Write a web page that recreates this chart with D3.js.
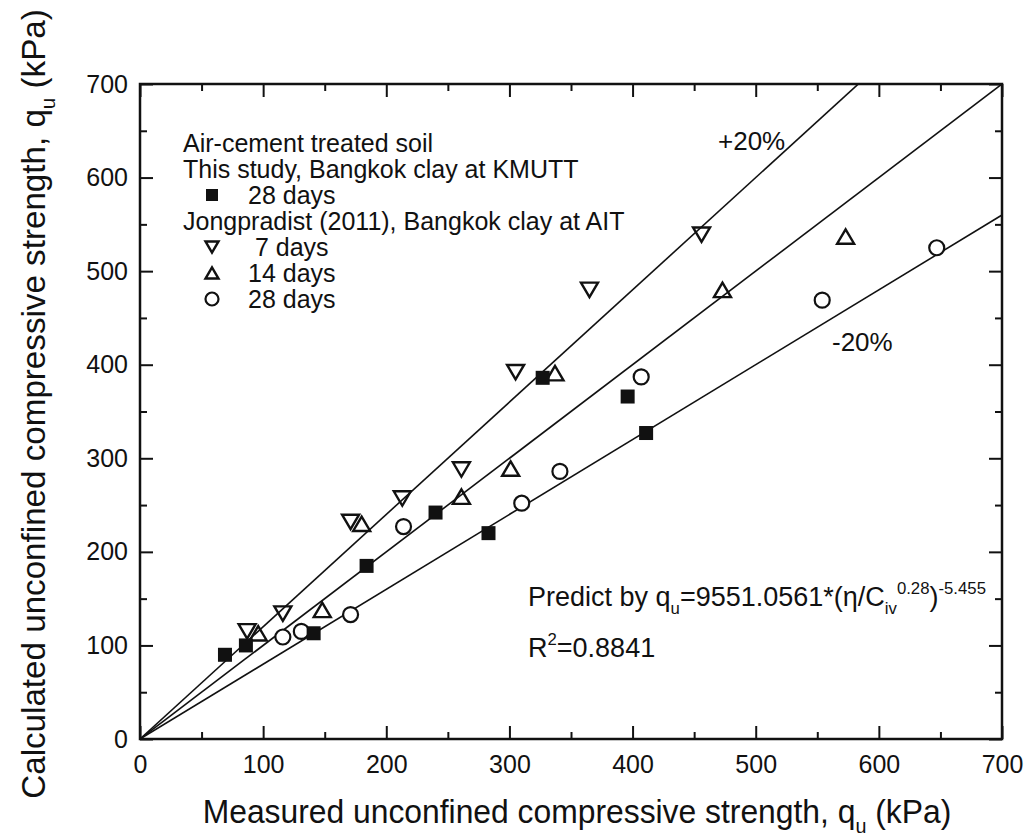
<!DOCTYPE html>
<html>
<head>
<meta charset="utf-8">
<script src="https://cdn.jsdelivr.net/npm/d3@7"></script>
<style>
  body { margin: 0; background: #fff; }
  svg text { font-family: "Liberation Sans", Arial, sans-serif; fill: #111; }
</style>
</head>
<body>
<script>
// measured (x) vs calculated (y) qu, kPa
const kmutt28 = [[69, 90], [86, 100], [141, 113], [184, 185], [240, 242], [283, 220], [327, 386], [396, 366], [411, 327]]
const ait7 = [[87, 115], [116, 134], [171, 232], [213, 257], [261, 288], [305, 392], [365, 480], [456, 539]]
const ait14 = [[96, 113], [148, 138], [180, 230], [261, 259], [301, 289], [337, 391], [473, 480], [573, 537]]
const ait28 = [[116, 109], [131, 115], [171, 133], [214, 227], [310, 252], [341, 286], [407, 387], [554, 469], [647, 525]]

const majorTicks = [0, 100, 200, 300, 400, 500, 600, 700]
const minorTicks = [50, 150, 250, 350, 450, 550, 650]
const lineRatios = [1.2, 1.0, 0.8]   // +20%, 1:1, -20%

const legendRows = [
    { label: "Air-cement treated soil", sym: null },
    { label: "This study, Bangkok clay at KMUTT", sym: null },
    { label: "28 days", sym: "square" },
    { label: "Jongpradist (2011), Bangkok clay at AIT", sym: null },
    { label: " 7 days", sym: "down" },
    { label: "14 days", sym: "up" },
    { label: "28 days", sym: "circle" }
]

const W = 1035, H = 838
const L = 140, R = 1002, T = 84, B = 739

let svg = d3.select("body").append("svg")
    .attr("width", W)
    .attr("height", H)

let x = d3.scaleLinear().domain([0, 700]).range([L, R])
let y = d3.scaleLinear().domain([0, 700]).range([B, T])

svg.append("clipPath").attr("id", "plotClip")
    .append("rect").attr("x", L).attr("y", T).attr("width", R - L).attr("height", B - T)

// ticks, all four sides pointing in
function tickAxis(axis, g, vals, size, labels) {
    let a = axis.tickValues(vals).tickSize(-size)
    if (!labels) a.tickFormat("")
    g.call(a)
    g.select(".domain").remove()
    g.selectAll(".tick line").attr("stroke", "#111").attr("stroke-width", 2)
}
let gx = svg.append("g").attr("transform", `translate(0,${B})`)
tickAxis(d3.axisBottom(x).tickPadding(16), gx, majorTicks, 13, true)
tickAxis(d3.axisBottom(x), svg.append("g").attr("transform", `translate(0,${B})`), minorTicks, 7, false)
let gy = svg.append("g").attr("transform", `translate(${L},0)`)
tickAxis(d3.axisLeft(y).tickPadding(12), gy, majorTicks, 13, true)
tickAxis(d3.axisLeft(y), svg.append("g").attr("transform", `translate(${L},0)`), minorTicks, 7, false)
tickAxis(d3.axisTop(x), svg.append("g").attr("transform", `translate(0,${T})`), majorTicks, 13, false)
tickAxis(d3.axisTop(x), svg.append("g").attr("transform", `translate(0,${T})`), minorTicks, 7, false)
tickAxis(d3.axisRight(y), svg.append("g").attr("transform", `translate(${R},0)`), majorTicks, 13, false)
tickAxis(d3.axisRight(y), svg.append("g").attr("transform", `translate(${R},0)`), minorTicks, 7, false)

svg.selectAll(".tick text")
    .style("font-family", '"Liberation Sans", Arial, sans-serif')
    .style("font-size", "25px")
    .attr("fill", "#111")

// reference lines
svg.append("g").attr("clip-path", "url(#plotClip)")
    .selectAll("line")
    .data(lineRatios)
    .enter()
    .append("line")
    .attr("x1", x(0)).attr("y1", y(0))
    .attr("x2", r => x(700)).attr("y2", r => y(700 * r))
    .attr("stroke", "#111")
    .attr("stroke-width", 1.6)

// frame
svg.append("rect")
    .attr("x", L).attr("y", T).attr("width", R - L).attr("height", B - T)
    .attr("fill", "none").attr("stroke", "#111").attr("stroke-width", 2.5)

// markers
function drawSymbol(g, sym, s) {
    if (sym === "square") {
        g.append("rect").attr("x", -s / 2).attr("y", -s / 2).attr("width", s).attr("height", s).attr("fill", "#111")
    } else if (sym === "circle") {
        g.append("circle").attr("r", s / 2).attr("fill", "#fff").attr("stroke", "#111").attr("stroke-width", 2.2)
    } else {
        let h = s * 0.85
        let pts = sym === "down"
            ? [[-s / 2, -h / 2], [s / 2, -h / 2], [0, h / 2]]
            : [[-s / 2, h / 2], [s / 2, h / 2], [0, -h / 2]]
        g.append("polygon").attr("points", pts.map(p => p.join(",")).join(" "))
            .attr("fill", "none").attr("stroke", "#111").attr("stroke-width", 2.4)
            .attr("stroke-linejoin", "miter")
    }
}
const series = [
    { data: ait28, sym: "circle", size: 15 },
    { data: ait14, sym: "up", size: 17 },
    { data: ait7, sym: "down", size: 17 },
    { data: kmutt28, sym: "square", size: 14 }
]
for (let s of series) {
    svg.append("g").selectAll("g")
        .data(s.data)
        .enter()
        .append("g")
        .attr("transform", d => `translate(${x(d[0])},${y(d[1])})`)
        .each(function () { drawSymbol(d3.select(this), s.sym, s.size) })
}

// legend
let leg = svg.append("g")
legendRows.forEach((row, i) => {
    let by = 152 + i * 26
    if (row.sym) {
        drawSymbol(leg.append("g").attr("transform", `translate(212,${by - 9})`), row.sym, row.sym === "square" ? 12 : 13)
        leg.append("text").attr("x", 248).attr("y", by).style("font-size", "25px")
            .style("white-space", "pre").text(row.label)
    } else {
        leg.append("text").attr("x", 183).attr("y", by).style("font-size", "25px").text(row.label)
    }
})

svg.append("text").attr("x", 718).attr("y", 150).style("font-size", "26px").text("+20%")
svg.append("text").attr("x", 832).attr("y", 351).style("font-size", "26px").text("-20%")

// rich text helper: parts = [text, "sub"|"sup"|undefined]
function richText(t, parts, fs) {
    let shift = 0
    for (let [str, kind] of parts) {
        let target = kind === "sub" ? 0.3 * fs : kind === "sup" ? -0.45 * fs : 0
        t.append("tspan")
            .attr("dy", target - shift)
            .style("font-size", kind ? (fs * 0.62) + "px" : fs + "px")
            .text(str)
        shift = target
    }
}

let pred = svg.append("text").attr("x", 528).attr("y", 606)
richText(pred, [["Predict by q"], ["u", "sub"], ["=9551.0561*(\u03b7/C"], ["iv", "sub"], ["0.28", "sup"], [")"], ["-5.455", "sup"]], 27)
let r2 = svg.append("text").attr("x", 528).attr("y", 657)
richText(r2, [["R"], ["2", "sup"], ["=0.8841"]], 27)

// axis titles, squeezed to the width of the original
function fitTitle(t, len) {
    let w = t.node().getBBox().width
    return len / w
}
let xt = svg.append("text").attr("text-anchor", "middle")
richText(xt, [["Measured unconfined compressive strength, q"], ["u", "sub"], [" (kPa)"]], 33)
let kx = fitTitle(xt, 749)
xt.attr("transform", `translate(577,823) scale(${kx},1)`)

let yt = svg.append("text").attr("text-anchor", "middle")
richText(yt, [["Calculated unconfined compressive strength, q"], ["u", "sub"], [" (kPa)"]], 34)
let ky = fitTitle(yt, 790)
yt.attr("transform", `translate(45,404) rotate(-90) scale(${ky},1)`)
</script>
</body>
</html>
